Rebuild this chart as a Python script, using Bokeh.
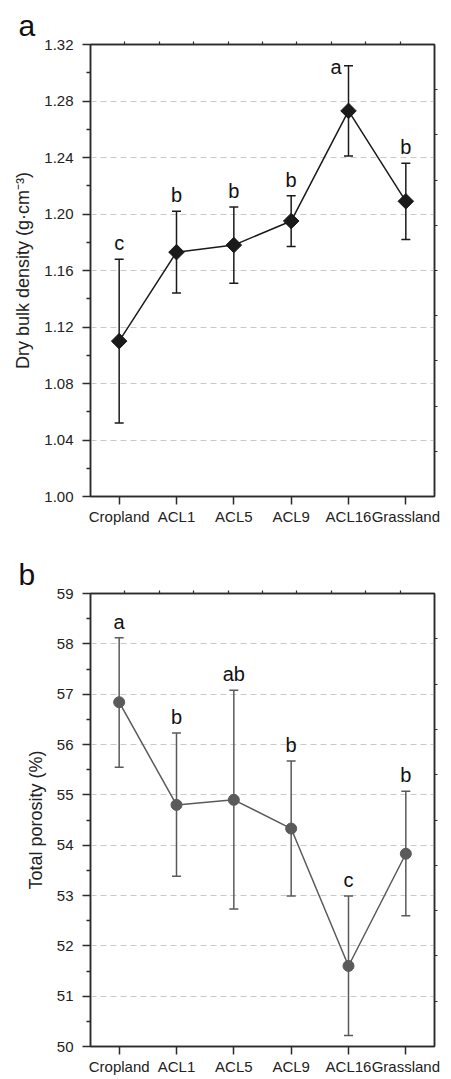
from bokeh.plotting import figure
from bokeh.layouts import column
from bokeh.models import (ColumnDataSource, Range1d, LinearAxis,
                          FixedTicker, NumeralTickFormatter)
from bokeh.core.properties import value
from bokeh.embed import file_html
from bokeh.resources import INLINE
import math

# ---------------- data ----------------
categories = ["Cropland", "ACL1", "ACL5", "ACL9", "ACL16", "Grassland"]

bd_mean = [1.110, 1.173, 1.178, 1.195, 1.273, 1.209]
bd_upper = [1.168, 1.202, 1.205, 1.213, 1.305, 1.236]
bd_lower = [1.052, 1.144, 1.151, 1.177, 1.241, 1.182]
bd_letters = ["c", "b", "b", "b", "a", "b"]
bd_ticks = [1.00, 1.04, 1.08, 1.12, 1.16, 1.20, 1.24, 1.28, 1.32]

por_mean = [56.84, 54.80, 54.90, 54.33, 51.60, 53.83]
por_upper = [58.12, 56.23, 57.08, 55.67, 52.99, 55.07]
por_lower = [55.55, 53.38, 52.73, 52.99, 50.22, 52.60]
por_letters = ["a", "b", "ab", "b", "c", "b"]
por_ticks = [50, 51, 52, 53, 54, 55, 56, 57, 58, 59]

FONT = "Liberation Sans"
AXC = "#2b2b2b"
xpos = list(range(len(categories)))


def make_panel(tag, ylabel, mean, upper, lower, letters, ticks, fmt,
               color, marker, msize, mangle, height, btop, bbottom, side_letter):
    ymin, ymax = ticks[0], ticks[-1]
    step = ticks[1] - ticks[0]
    minors = [ticks[0] + step * (i + 0.5) for i in range(len(ticks) - 1)]
    n = len(categories)
    p = figure(x_range=Range1d(-0.5, n - 0.5), y_range=Range1d(ymin, ymax),
               width=451, height=height, output_backend="svg",
               toolbar_location=None, min_border_left=90, min_border_right=17,
               min_border_top=btop, min_border_bottom=bbottom,
               background_fill_color="white", border_fill_color="white")
    p.title.text = tag
    p.title.text_font = FONT
    p.title.text_font_size = "30px"
    p.title.text_font_style = "normal"
    p.title.text_color = "#111111"
    p.title.offset = -72
    p.title.standoff = 0

    p.outline_line_color = AXC
    p.outline_line_width = 1.5
    p.xgrid.grid_line_color = None
    p.ygrid.ticker = FixedTicker(ticks=ticks)
    p.ygrid.grid_line_color = "#c8c8c8"
    p.ygrid.grid_line_dash = "6 4"
    p.ygrid.grid_line_width = 1

    # left axis
    ya = p.yaxis[0]
    ya.ticker = FixedTicker(ticks=ticks, minor_ticks=minors)
    ya.formatter = NumeralTickFormatter(format=fmt)
    ya.axis_label = ylabel
    ya.axis_label_text_font = FONT
    ya.axis_label_text_font_size = "18px"
    ya.axis_label_text_font_style = "normal"
    ya.axis_label_text_color = "#222222"
    ya.axis_label_standoff = 8
    ya.major_label_text_font = FONT
    ya.major_label_text_font_size = "15px"
    ya.major_label_text_color = "#222222"
    ya.major_label_standoff = 9
    ya.major_tick_out = 8
    ya.major_tick_in = 0
    ya.minor_tick_out = 4
    ya.minor_tick_in = 0
    ya.axis_line_color = AXC
    ya.axis_line_width = 1.5
    ya.major_tick_line_color = AXC
    ya.major_tick_line_width = 1.5
    ya.minor_tick_line_color = AXC
    ya.minor_tick_line_width = 1.5

    # bottom axis
    xa = p.xaxis[0]
    xa.ticker = FixedTicker(ticks=xpos)
    xa.major_label_overrides = {i: c for i, c in zip(xpos, categories)}
    xa.major_label_text_font = FONT
    xa.major_label_text_font_size = "15px"
    xa.major_label_text_color = "#222222"
    xa.major_label_standoff = 3
    xa.major_tick_out = 8
    xa.major_tick_in = 0
    xa.minor_tick_line_color = None
    xa.axis_line_color = AXC
    xa.axis_line_width = 1.5
    xa.major_tick_line_color = AXC
    xa.major_tick_line_width = 1.5

    # mirrored top / right axes with 10 divisions (ticks only)
    p.extra_x_ranges = {"div": Range1d(0, 10)}
    p.extra_y_ranges = {"div": Range1d(0, 10)}
    top = LinearAxis(x_range_name="div", ticker=FixedTicker(ticks=list(range(1, 10))))
    right = LinearAxis(y_range_name="div", ticker=FixedTicker(ticks=list(range(1, 10))))
    for ax in (top, right):
        ax.major_label_text_color = None
        ax.major_label_text_font_size = "1px"
        ax.major_label_standoff = 0
        ax.major_tick_out = 3
        ax.major_tick_in = 0
        ax.minor_tick_line_color = None
        ax.axis_line_color = AXC
        ax.axis_line_width = 1.5
        ax.major_tick_line_color = AXC
        ax.major_tick_line_width = 1.2
    p.add_layout(top, "above")
    p.add_layout(right, "right")

    src = ColumnDataSource(dict(x=xpos, y=mean, up=upper, lo=lower, lab=letters))
    p.segment(x0="x", y0="lo", x1="x", y1="up", source=src,
              line_color=color, line_width=1.5)
    p.scatter(x="x", y="up", source=src, marker="dash", size=9,
              line_color=color, line_width=1.5)
    p.scatter(x="x", y="lo", source=src, marker="dash", size=9,
              line_color=color, line_width=1.5)
    p.line(x="x", y="y", source=src, line_color=color, line_width=1.5)
    p.scatter(x="x", y="y", source=src, marker=marker, size=msize, angle=mangle,
              fill_color=color, line_color=color, line_width=1)

    normal = [i for i in xpos if i != side_letter]
    s1 = ColumnDataSource(dict(x=normal,
                               up=[upper[i] for i in normal],
                               lab=[letters[i] for i in normal]))
    p.text(x="x", y="up", text="lab", source=s1, text_font=value(FONT),
           text_font_size="20px", text_align="center", text_baseline="bottom",
           y_offset=-5, text_color="#111111")
    if side_letter is not None:
        s2 = ColumnDataSource(dict(x=[side_letter],
                                   up=[upper[side_letter]],
                                   lab=[letters[side_letter]]))
        p.text(x="x", y="up", text="lab", source=s2, text_font=value(FONT),
               text_font_size="20px", text_align="right", text_baseline="middle",
               x_offset=-7, y_offset=1, text_color="#111111")
    return p


pa = make_panel("a", "Dry bulk density (g\u00b7cm\u207b\u00b3)", bd_mean, bd_upper, bd_lower,
                bd_letters, bd_ticks, "0.00", "#1a1a1a", "square", 11, math.pi / 4,
                548, 44, 52, 4)
pb = make_panel("b", "Total porosity (%)", por_mean, por_upper, por_lower,
                por_letters, por_ticks, "0", "#5a5a5a", "circle", 11, 0,
                531, 45, 33, None)

layout = column(pa, pb, spacing=0)
open("out.html", "w").write(file_html(layout, INLINE))
